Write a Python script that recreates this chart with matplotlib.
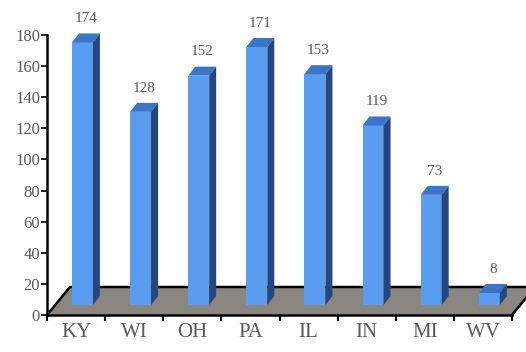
import matplotlib
matplotlib.use("Agg")
import matplotlib.pyplot as plt
from matplotlib.patches import Polygon

### Data
states = ['KY', 'WI', 'OH', 'PA', 'IL', 'IN', 'MI', 'WV']
counts = [174, 128, 152, 171, 153, 119, 73, 8]
y_ticks = list(range(0, 181, 20))

### Colours for the fake 3D look
front_col = '#5A9CF0'
top_col = '#3C74C8'
side_col = '#26467E'
floor_col = '#8A8783'
text_col = '#5a5a5a'

fig = plt.figure(figsize=(5.26, 3.52), dpi=100)
ax = fig.add_axes([47 / 526, 37 / 352, 465 / 526, 280 / 352])
ax.set_xlim(0, len(states))
ax.set_ylim(0, 180)

### pixel -> data conversion (axes is 465 x 280 px)
px_x = len(states) / 465.0
px_y = 180 / 280.0

### Floor (parallelogram going back into the page)
fdx, fdy = 23 * px_x, 28 * px_y
n = len(states)
floor = Polygon([(0, 0), (n, 0), (n + fdx, fdy), (fdx, fdy)], closed=True,
                facecolor=floor_col, edgecolor='none', zorder=1, clip_on=False)
ax.add_patch(floor)
ax.plot([0, fdx, n + fdx], [0, fdy, fdy], color='black', lw=1.8, zorder=2, clip_on=False)
ax.plot([n, n + fdx], [0, fdy], color='black', lw=1.8, zorder=2, clip_on=False)

### Bars: front face + top + side
base = 10 * px_y
ddx, ddy = 7 * px_x, 9 * px_y
w = 0.36
for i, v in enumerate(counts):
    xl = i + 0.43
    top = base + v * 0.97
    ax.add_patch(Polygon([(xl, base), (xl + w, base), (xl + w, top), (xl, top)],
                         facecolor=front_col, edgecolor='none', zorder=3, clip_on=False))
    ax.add_patch(Polygon([(xl, top), (xl + w, top), (xl + w + ddx, top + ddy), (xl + ddx, top + ddy)],
                         facecolor=top_col, edgecolor='none', zorder=3, clip_on=False))
    ax.add_patch(Polygon([(xl + w, base), (xl + w, top), (xl + w + ddx, top + ddy), (xl + w + ddx, base + ddy)],
                         facecolor=side_col, edgecolor='none', zorder=3, clip_on=False))
    ax.annotate(str(v), (xl + w / 2 + ddx / 2, top + ddy), xytext=(0, 6),
                textcoords='offset points', ha='center', va='bottom',
                family='Liberation Serif', fontsize=11, color=text_col,
                annotation_clip=False)

### Axes styling
for s in ['top', 'right']:
    ax.spines[s].set_visible(False)
ax.spines['left'].set_linewidth(1.8)
ax.spines['bottom'].set_linewidth(1.8)
ax.spines['left'].set_zorder(2)
ax.spines['bottom'].set_zorder(2)

ax.set_yticks(y_ticks)
ax.set_yticklabels([str(t) for t in y_ticks], family='Liberation Serif', fontsize=12, color=text_col)
ax.tick_params(axis='y', length=4, width=1.2, pad=1)

ax.set_xticks(range(n + 1))
ax.set_xticklabels([])
ax.tick_params(axis='x', which='major', length=4, width=1.5)
ax.set_xticks([i + 0.5 for i in range(n)], minor=True)
ax.set_xticklabels(states, minor=True, family='Liberation Serif', fontsize=15, color=text_col)
ax.tick_params(axis='x', which='minor', length=0, pad=6)

fig.savefig('out.png', dpi=100)
